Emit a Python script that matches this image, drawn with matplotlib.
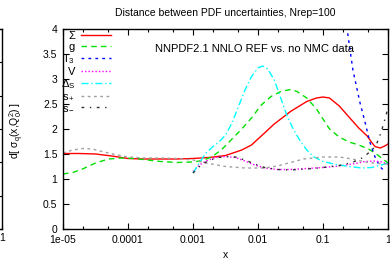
import numpy as np
import matplotlib
matplotlib.use("Agg")
import matplotlib.pyplot as plt
from matplotlib.ticker import LogLocator, FixedLocator, NullFormatter

plt.rcParams['font.family'] = ['Liberation Sans', 'DejaVu Sans']
plt.rcParams['mathtext.fontset'] = 'custom'
plt.rcParams['mathtext.rm'] = 'Liberation Sans'
plt.rcParams['mathtext.it'] = 'Liberation Sans'

# data, x given as log10(x)
sigma_lx = [-5, -4.75, -4.5, -4.25, -4, -3.75, -3.5, -3.25, -3, -2.75, -2.5, -2.25, -2.1, -2.0, -1.85,
            -1.75, -1.5, -1.25, -1.1, -1.0, -0.9, -0.75, -0.6, -0.45, -0.32, -0.25, -0.2, -0.12,
            -0.05, 0]
sigma_y = [1.51, 1.51, 1.50, 1.46, 1.41, 1.40, 1.40, 1.40, 1.41, 1.43, 1.47, 1.58, 1.68, 1.80, 1.98,
           2.10, 2.35, 2.55, 2.62, 2.64, 2.62, 2.46, 2.24, 2.02, 1.86, 1.73, 1.65, 1.62,
           1.66, 1.70]

g_lx = [-5, -4.85, -4.7, -4.5, -4.3, -4.1, -3.9, -3.7, -3.5, -3.25, -3, -2.85, -2.7, -2.55, -2.4,
        -2.25, -2.1, -1.95, -1.8, -1.65, -1.5, -1.4, -1.25, -1.1, -1.0, -0.9, -0.75, -0.6, -0.45,
        -0.3, -0.2, -0.1, 0]
g_y = [1.10, 1.13, 1.20, 1.32, 1.40, 1.42, 1.41, 1.38, 1.35, 1.33, 1.34, 1.37, 1.45, 1.60, 1.80,
       2.00, 2.22, 2.48, 2.65, 2.75, 2.79, 2.75, 2.62, 2.40, 2.20, 2.00, 1.84, 1.74, 1.68,
       1.60, 1.52, 1.42, 1.32]

t3_lx = [-0.7, -0.63, -0.54, -0.43, -0.35, -0.28, -0.2, -0.12, -0.07]
t3_y = [4.6, 4.0, 3.18, 2.52, 2.12, 1.74, 1.44, 1.24, 1.18]

v_lx = [-3.0, -2.9, -2.8, -2.65, -2.5, -2.35, -2.2, -2.05, -1.9, -1.7, -1.5, -1.25, -1.0, -0.75,
        -0.5, -0.35, -0.2, -0.1, 0]
v_y = [1.15, 1.28, 1.36, 1.43, 1.45, 1.43, 1.36, 1.28, 1.22, 1.19, 1.19, 1.21, 1.23, 1.26,
       1.31, 1.35, 1.36, 1.34, 1.30]

ds_lx = [-3.0, -2.9, -2.8, -2.7, -2.6, -2.5, -2.4, -2.3, -2.2, -2.1, -2.0, -1.93, -1.85, -1.75,
         -1.65, -1.55, -1.45, -1.35, -1.25, -1.15, -1.0, -0.8, -0.6, -0.4, -0.25, -0.1, 0]
ds_y = [1.12, 1.33, 1.52, 1.64, 1.74, 1.88, 2.12, 2.45, 2.78, 3.05, 3.22, 3.26, 3.20, 2.98,
        2.62, 2.25, 1.98, 1.76, 1.58, 1.45, 1.35, 1.29, 1.25, 1.22, 1.23, 1.28, 1.32]

sp_lx = [-5, -4.85, -4.7, -4.55, -4.4, -4.2, -4.0, -3.75, -3.5, -3.25, -3.0, -2.8, -2.5, -2.2,
         -1.9, -1.7, -1.5, -1.3, -1.0, -0.75, -0.55, -0.35, -0.15, 0]
sp_y = [1.52, 1.58, 1.61, 1.60, 1.55, 1.49, 1.44, 1.42, 1.42, 1.41, 1.38, 1.32, 1.25, 1.22,
        1.22, 1.26, 1.33, 1.40, 1.44, 1.44, 1.40, 1.34, 1.31, 1.30]

sm_lx = [-3.0, -2.9, -2.8, -2.65, -2.5, -2.35, -2.2, -2.05, -1.9, -1.7, -1.5, -1.25, -1.0, -0.75,
         -0.55, -0.4, -0.3, -0.22, -0.17, -0.11, -0.06, 0]
sm_y = [1.12, 1.25, 1.34, 1.42, 1.45, 1.44, 1.38, 1.30, 1.23, 1.19, 1.18, 1.20, 1.23, 1.27,
        1.33, 1.42, 1.52, 1.62, 1.72, 1.92, 2.14, 2.42]

series = [
    (sigma_lx, sigma_y, 'Σ', '#ff0000', '-', None),
    (g_lx, g_y, 'g', '#00e000', '--', (4, 3)),
    (t3_lx, t3_y, 'T$_3$', '#0000ff', ':', (2, 3)),
    (v_lx, v_y, 'V', '#ff00ff', ':', (1, 1.5)),
    (ds_lx, ds_y, 'Δ$_\\mathrm{S}$', '#00ffff', '-.', (5, 2, 1, 2)),
    (sp_lx, sp_y, 's$_+$', '#a0a0a0', ':', (2, 2.5)),
    (sm_lx, sm_y, 's$_-$', '#303030', '-.', (2, 4, 1, 4)),
]

W, H = 390, 262
fig = plt.figure(figsize=(W / 100, H / 100), dpi=100)

# neighbouring panel, only its right edge is visible
axl = fig.add_axes([-1.0, 33 / H, 1.0 + 2 / W, 200 / H])
axl.set_xscale('log')
axl.set_xlim(1e-5, 1)
axl.set_ylim(0, 1.2)
axl.set_xticks([1])
axl.set_xticklabels(['1'])
axl.yaxis.set_major_locator(FixedLocator([0, 0.2, 0.4, 0.6, 0.8, 1.0, 1.2]))
axl.tick_params(direction='in', right=True, left=False, labelleft=False, labelsize=7.5,
                length=3, width=0.8, pad=3)
axl.xaxis.set_minor_formatter(NullFormatter())
for s in axl.spines.values():
    s.set_linewidth(1.0)

ax = fig.add_axes([63 / W, 33 / H, 325 / W, 200 / H])
for lx, y, lab, col, ls, dash in series:
    x = 10.0 ** np.array(lx)
    line, = ax.plot(x, y, color=col, linestyle=ls, linewidth=1.0, label=lab)
    if dash is not None:
        line.set_dashes(dash)

ax.set_xscale('log')
ax.set_xlim(1e-5, 1)
ax.set_ylim(0, 4)
ax.set_xticks([1e-5, 1e-4, 1e-3, 1e-2, 1e-1, 1])
ax.set_xticklabels(['1e-05', '0.0001', '0.001', '0.01', '0.1', '1'])
ax.xaxis.set_minor_locator(LogLocator(base=10, subs=(2, 5)))
ax.xaxis.set_minor_formatter(NullFormatter())
ax.set_yticks([0, 0.5, 1, 1.5, 2, 2.5, 3, 3.5, 4])
ax.set_yticklabels(['0', '0.5', '1', '1.5', '2', '2.5', '3', '3.5', '4'])
ax.tick_params(which='both', direction='in', top=True, right=True, labelsize=7.5, width=0.8)
ax.tick_params(which='major', length=4, pad=4)
ax.tick_params(which='minor', length=2)
for s in ax.spines.values():
    s.set_linewidth(1.0)

ax.set_title('Distance between PDF uncertainties, Nrep=100', fontsize=7.5, pad=9)
ax.set_xlabel('x', fontsize=7.5, labelpad=4)
fig.text(17 / W, 0.5, 'd[ σ$_q$(x,Q$_0^2$) ]', rotation=90, fontsize=7.5,
         ha='center', va='center')
ax.text(0.588, 0.9, 'NNPDF2.1 NNLO REF vs. no NMC data', transform=ax.transAxes,
        fontsize=8, ha='center', va='center')

ax.legend(loc='upper left', bbox_to_anchor=(-0.014, 1.0), frameon=False, markerfirst=False,
          fontsize=8, handlelength=2.7, handletextpad=0.5, labelspacing=0.05,
          borderaxespad=0.0, borderpad=0.2)

fig.savefig('out.png', dpi=100)
